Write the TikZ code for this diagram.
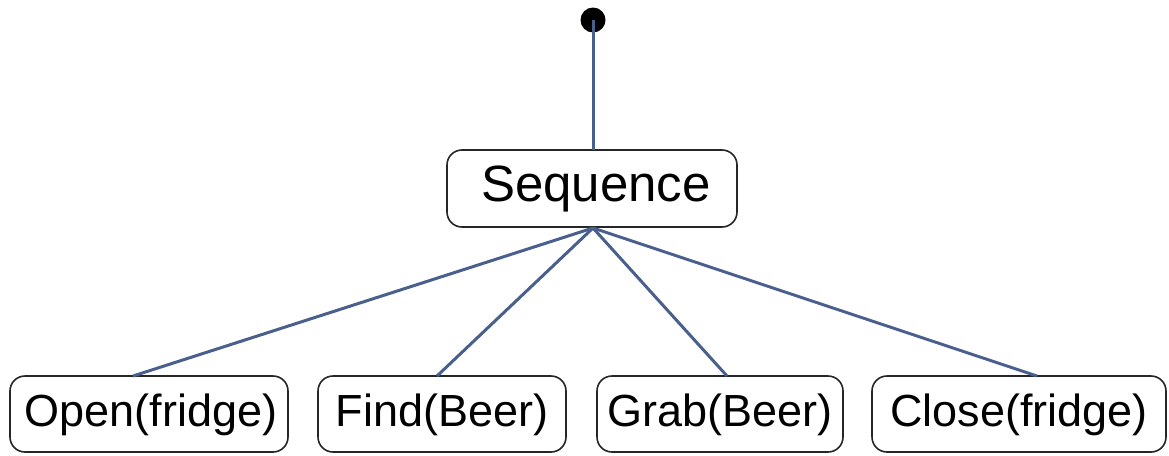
\documentclass[tikz,border=0pt]{standalone}
\usepackage{fontspec}
\setmainfont{Liberation Sans}
\begin{document}
\begin{tikzpicture}[x=1pt,y=-1pt,
  edge/.style={draw={rgb,255:red,74;green,96;blue,140}, line width=3pt},
  task/.style={draw=black!85, line width=1.6pt, rounded corners=15pt, inner sep=0pt},
  lbl/.style={font=\fontsize{45}{50}\selectfont}]
\useasboundingbox (0,0) rectangle (1169,455);
% root marker
\node[circle, fill=black, minimum size=25pt, inner sep=0pt] (root) at (593,20) {};
% composite node
\draw[task] (447,150) rectangle (737,227);
\node[inner sep=0pt] (seq) at (596,189) {\fontsize{51}{56}\selectfont Sequence};
\coordinate (seqT) at (593,150);
\coordinate (seqB) at (593,228);
% leaf tasks
\draw[task] (10,376) rectangle (288,452);
\draw[task] (318,376) rectangle (566,452);
\draw[task] (597,376) rectangle (843,452);
\draw[task] (872,376) rectangle (1166,452);
\node[lbl] (open) at (151,415) {Open(fridge)};
\node[lbl] (find) at (442,415) {Find(Beer)};
\node[lbl] (grab) at (720,415) {Grab(Beer)};
\node[lbl] (close) at (1019,415) {Close(fridge)};
\coordinate (openT) at (133,376);
\coordinate (findT) at (437,376);
\coordinate (grabT) at (727,376);
\coordinate (closeT) at (1037,376);
% connectors
\draw[edge] (root.center) -- (seqT);
\draw[edge] (seqB) -- (openT);
\draw[edge] (seqB) -- (findT);
\draw[edge] (seqB) -- (grabT);
\draw[edge] (seqB) -- (closeT);
\end{tikzpicture}
\end{document}
